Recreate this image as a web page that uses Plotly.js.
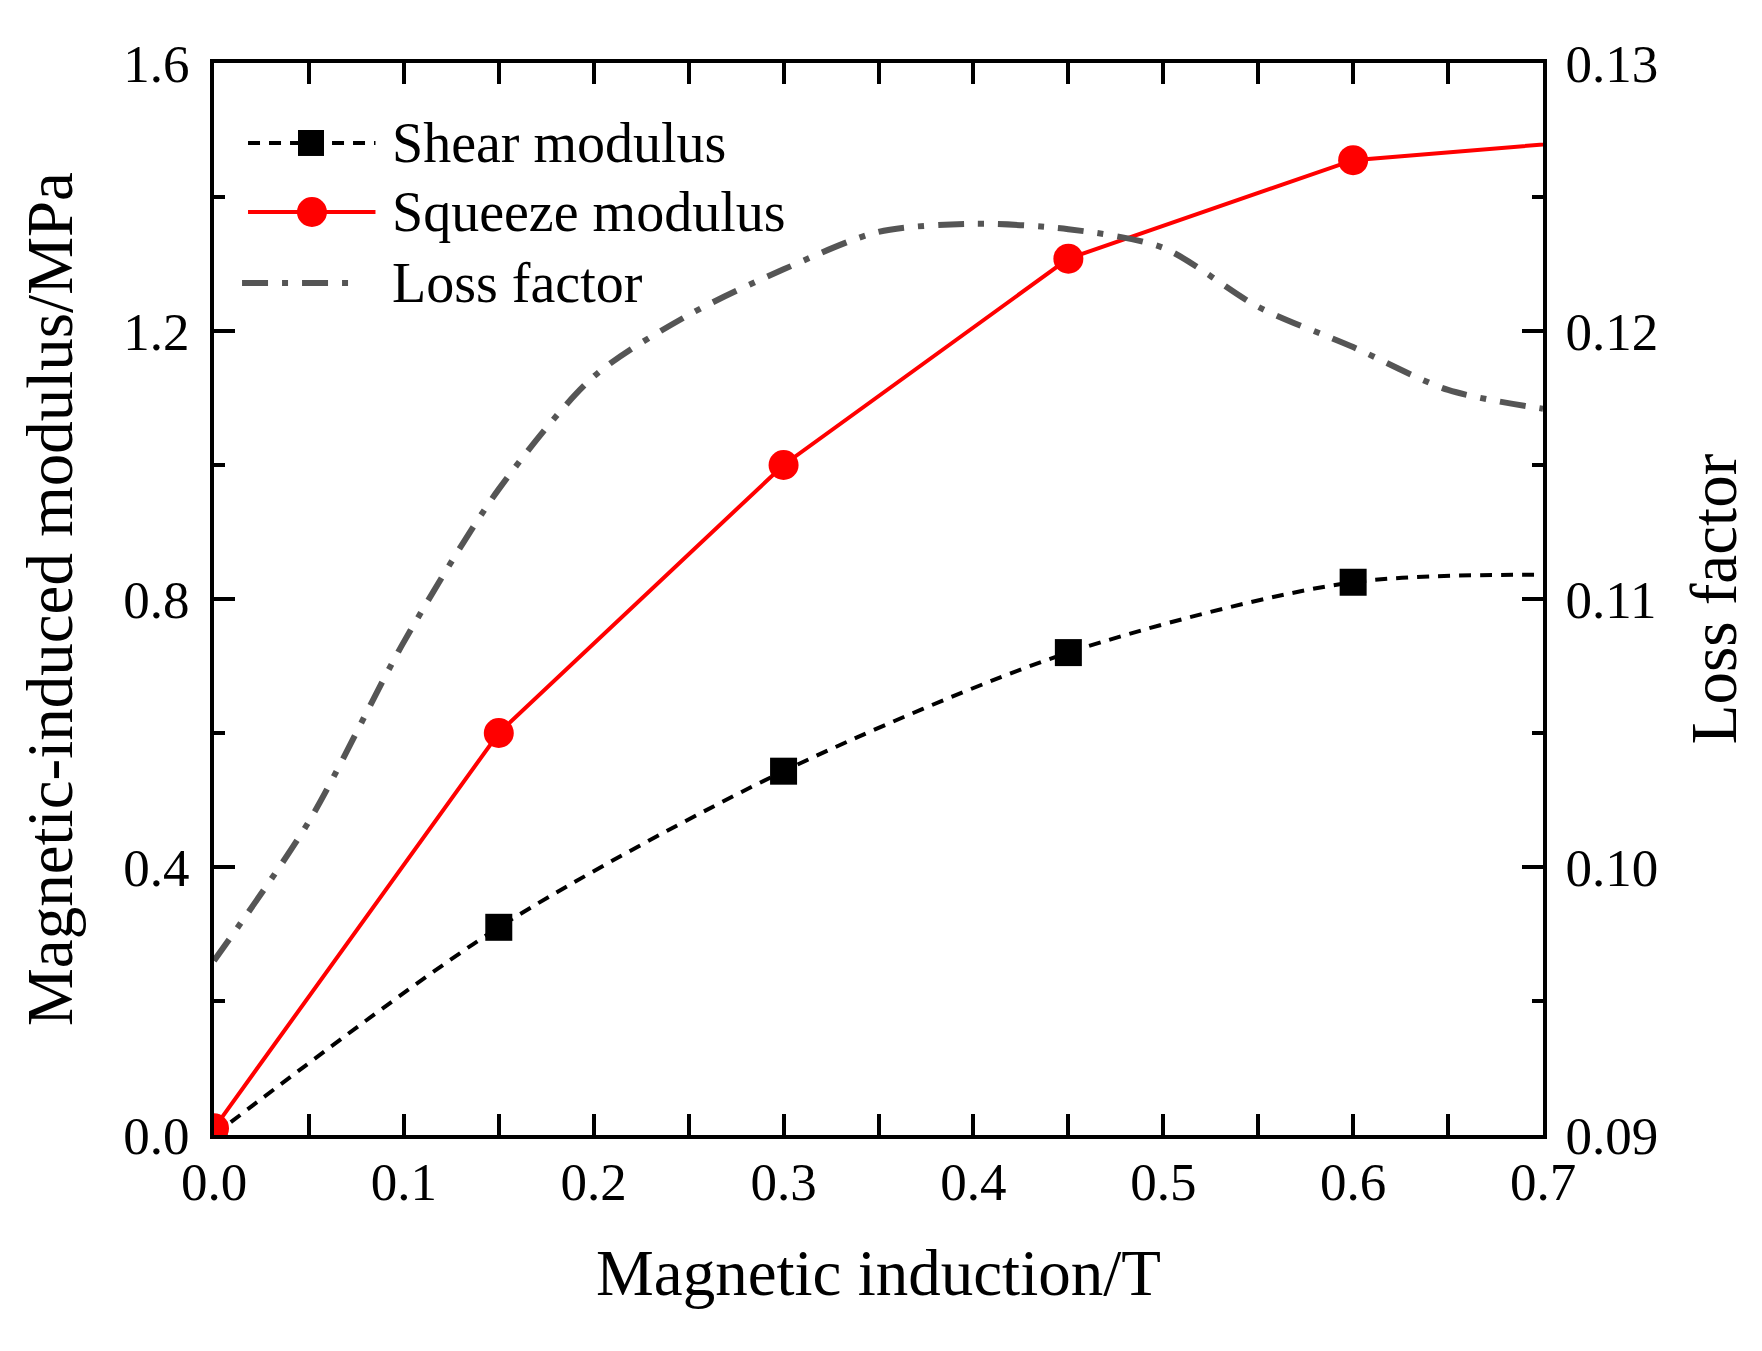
<!DOCTYPE html>
<html>
<head>
<meta charset="utf-8">
<script src="https://cdn.plot.ly/plotly-3.0.1.min.js"></script>
<style>
  html, body { margin: 0; padding: 0; background: #fff; }
  #chart { width: 1762px; height: 1351px; }
</style>
</head>
<body>
<div id="chart"></div>
<script>
// values (last point past 0.7 is clipped by the axis)
const inductionPts = [0, 0.15, 0.3, 0.45, 0.6, 0.75];
const shearModulus = [0, 0.31, 0.543, 0.72, 0.825, 0.835];
const squeezeModulus = [0.01, 0.60, 1.00, 1.308, 1.455, 1.49];

const lossInduction = [0, 0.05, 0.1, 0.15, 0.2, 0.25, 0.3, 0.35, 0.4, 0.45, 0.5, 0.55, 0.6, 0.65, 0.7];
const lossFactor = [0.0965, 0.1017, 0.1084, 0.1141, 0.1183, 0.1206, 0.1223, 0.1237, 0.1240, 0.1238, 0.1231, 0.1209, 0.1194, 0.1178, 0.1171];

const legendNames = ['Shear modulus', 'Squeeze modulus', 'Loss factor'];

const FONT = '"Times New Roman", "Liberation Serif", serif';
const AXIS_W = 4;

function initChart() {
    const traceShear = {
        x: inductionPts, y: shearModulus, type: 'scatter', mode: 'lines+markers', name: legendNames[0],
        line: { color: '#000', width: 4, dash: '12px,9px', shape: 'spline', smoothing: 0.8 },
        marker: { symbol: 'square', color: '#000', size: 27 },
        cliponaxis: true, showlegend: false,
    };
    const traceSqueeze = {
        x: inductionPts, y: squeezeModulus, type: 'scatter', mode: 'lines+markers', name: legendNames[1],
        line: { color: '#ff0000', width: 4 },
        marker: { symbol: 'circle', color: '#ff0000', size: 30 },
        cliponaxis: true, showlegend: false,
    };
    const traceLoss = {
        x: lossInduction, y: lossFactor, type: 'scatter', mode: 'lines', name: legendNames[2], yaxis: 'y2',
        line: { color: '#555', width: 6, dash: '26px,14px,6px,14px', shape: 'spline', smoothing: 0.8 },
        showlegend: false,
    };

    const tickCommon = {
        showline: true, linecolor: '#000', linewidth: AXIS_W,
        ticks: 'inside', ticklen: 21, tickwidth: AXIS_W, tickcolor: '#000',
        showgrid: false, zeroline: false,
        tickfont: { family: FONT, size: 53, color: '#000' },
    };

    // hand-made legend: long sample lines like the original
    const lgX0 = 0.0256, lgX1 = 0.1215, lgText = 0.1324;
    const rows = [0.9254, 0.8610, 0.7948];
    const shapes = [
        { type: 'line', xref: 'paper', yref: 'paper', x0: lgX0, x1: lgX1, y0: rows[0], y1: rows[0], line: { color: '#000', width: 4, dash: '12px,9px' } },
        { type: 'rect', xref: 'paper', yref: 'paper', xsizemode: 'pixel', ysizemode: 'pixel', xanchor: 0.0730, yanchor: rows[0],
          x0: -13, x1: 13, y0: -13, y1: 13, fillcolor: '#000', line: { width: 0 } },
        { type: 'line', xref: 'paper', yref: 'paper', x0: lgX0, x1: lgX1, y0: rows[1], y1: rows[1], line: { color: '#ff0000', width: 4 } },
        { type: 'circle', xref: 'paper', yref: 'paper', xsizemode: 'pixel', ysizemode: 'pixel', xanchor: 0.0737, yanchor: rows[1],
          x0: -15, x1: 15, y0: -15, y1: 15, fillcolor: '#ff0000', line: { width: 0 } },
        { type: 'line', xref: 'paper', yref: 'paper', x0: 0.0211, x1: 0.1076, y0: rows[2], y1: rows[2], line: { color: '#555', width: 6, dash: '26px,14px,6px,14px' } },
    ];
    const annotations = legendNames.map((t, i) => ({
        text: t, xref: 'paper', yref: 'paper', x: lgText, y: rows[i], xanchor: 'left', yanchor: 'middle',
        showarrow: false, font: { family: FONT, size: 56, color: '#000' },
    }));

    const layout = {
        width: 1762, height: 1351,
        margin: { l: 214, r: 219, t: 63, b: 216 },
        paper_bgcolor: '#fff', plot_bgcolor: '#fff',
        font: { family: FONT, color: '#000' },
        showlegend: false,
        xaxis: Object.assign({}, tickCommon, {
            range: [0, 0.7], dtick: 0.1, tick0: 0, tickformat: '.1f', mirror: 'allticks',
            ticklabelstandoff: -3,
            minor: { dtick: 0.05, ticks: 'inside', ticklen: 11, tickwidth: AXIS_W, tickcolor: '#000' },
            title: { text: 'Magnetic induction/T', font: { family: FONT, size: 65, color: '#000' }, standoff: 41 },
        }),
        yaxis: Object.assign({}, tickCommon, {
            range: [0, 1.6], dtick: 0.4, tick0: 0, tickformat: '.1f',
            ticklabelstandoff: 10,
            minor: { dtick: 0.2, ticks: 'inside', ticklen: 11, tickwidth: AXIS_W, tickcolor: '#000' },
            title: { text: 'Magnetic-induced modulus/MPa', font: { family: FONT, size: 65, color: '#000' }, standoff: 30 },
        }),
        yaxis2: Object.assign({}, tickCommon, {
            overlaying: 'y', side: 'right',
            range: [0.09, 0.13], dtick: 0.01, tick0: 0.09, tickformat: '.2f',
            ticklabelstandoff: 8,
            minor: { dtick: 0.005, ticks: 'inside', ticklen: 11, tickwidth: AXIS_W, tickcolor: '#000' },
            title: { text: 'Loss factor', font: { family: FONT, size: 65, color: '#000' }, standoff: 34 },
        }),
        shapes: shapes,
        annotations: annotations,
    };

    Plotly.newPlot('chart', [traceShear, traceSqueeze, traceLoss], layout, { displayModeBar: false, staticPlot: true });
}

window.addEventListener('load', initChart);
</script>
</body>
</html>
